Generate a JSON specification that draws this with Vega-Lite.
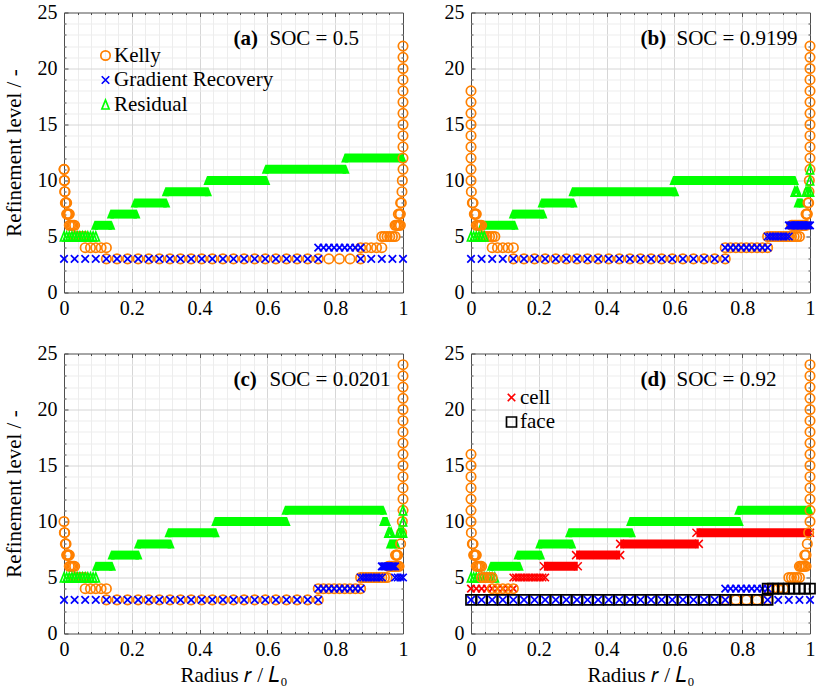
{
"$schema":"https://vega.github.io/schema/vega-lite/v6.json",
"padding":{"left":2,"top":1.5,"right":5,"bottom":3},
"background":"white",
"config":{
 "font":"Liberation Serif",
 "view":{"stroke":"#4d4d4d","strokeWidth":1},
 "text":{"font":"Liberation Serif"},
 "axis":{"domain":false,"tickColor":"#4d4d4d","tickWidth":1,"labelFont":"Liberation Serif","labelFontSize":20,"labelColor":"#000000","labelFlush":false,"labelOverlap":false,"titleFont":"Liberation Serif","titleFontSize":21,"titleFontWeight":"normal","titleColor":"#000000"},
 "legend":{"labelFont":"Liberation Serif","labelFontSize":21,"labelColor":"#000000"}
},
"datasets":{
"segs":[
{"p":"a","s":"R","x":0.09,"x2":0.141,"y":6},{"p":"a","s":"R","x":0.137,"x2":0.215,"y":7},{"p":"a","s":"R","x":0.207,"x2":0.303,"y":8},{"p":"a","s":"R","x":0.299,"x2":0.426,"y":9},{"p":"a","s":"R","x":0.422,"x2":0.598,"y":10},{"p":"a","s":"R","x":0.594,"x2":0.832,"y":11},{"p":"a","s":"R","x":0.828,"x2":1,"y":12},
{"p":"b","s":"R","x":0.03,"x2":0.13,"y":6},{"p":"b","s":"R","x":0.122,"x2":0.215,"y":7},{"p":"b","s":"R","x":0.207,"x2":0.304,"y":8},{"p":"b","s":"R","x":0.298,"x2":0.604,"y":9},{"p":"b","s":"R","x":0.596,"x2":0.957,"y":10},{"p":"b","s":"R","x":0.962,"x2":0.978,"y":8},
{"p":"c","s":"R","x":0.093,"x2":0.143,"y":6},{"p":"c","s":"R","x":0.139,"x2":0.221,"y":7},{"p":"c","s":"R","x":0.217,"x2":0.316,"y":8},{"p":"c","s":"R","x":0.307,"x2":0.449,"y":9},{"p":"c","s":"R","x":0.445,"x2":0.658,"y":10},{"p":"c","s":"R","x":0.652,"x2":0.943,"y":11},{"p":"c","s":"R","x":0.94,"x2":0.954,"y":10},{"p":"c","s":"R","x":0.96,"x2":0.982,"y":8},
{"p":"d","s":"R","x":0.057,"x2":0.145,"y":6},{"p":"d","s":"R","x":0.136,"x2":0.208,"y":7},{"p":"d","s":"R","x":0.2,"x2":0.3,"y":8},{"p":"d","s":"R","x":0.288,"x2":0.476,"y":9},{"p":"d","s":"R","x":0.468,"x2":0.794,"y":10},{"p":"d","s":"R","x":0.787,"x2":1,"y":11},
{"p":"d","s":"C","x":0.215,"x2":0.315,"y":6},{"p":"d","s":"C","x":0.31,"x2":0.44,"y":7},{"p":"d","s":"C","x":0.44,"x2":0.672,"y":8},{"p":"d","s":"C","x":0.665,"x2":1,"y":9}
],
"a":[
{"s":"K","x":0,"y":11},{"s":"K","x":0.0005,"y":11},{"s":"K","x":0.001,"y":10},{"s":"K","x":0.0015,"y":10},{"s":"K","x":0.002,"y":9},{"s":"K","x":0.003,"y":9},{"s":"K","x":0.004,"y":8},{"s":"K","x":0.006,"y":8},{"s":"K","x":0.0078,"y":8},
{"s":"K","x":0.0078,"y":7},{"s":"K","x":0.0098,"y":7},{"s":"K","x":0.0117,"y":7},{"s":"K","x":0.0137,"y":7},{"s":"K","x":0.0156,"y":7},
{"s":"K","x":0.0156,"y":6},{"s":"K","x":0.0195,"y":6},{"s":"K","x":0.0234,"y":6},{"s":"K","x":0.0273,"y":6},{"s":"K","x":0.0313,"y":6},
{"s":"K","x":0.0313,"y":5},{"s":"K","x":0.0391,"y":5},{"s":"K","x":0.0469,"y":5},{"s":"K","x":0.0547,"y":5},{"s":"K","x":0.0625,"y":5},
{"s":"K","x":0.0625,"y":4},{"s":"K","x":0.0781,"y":4},{"s":"K","x":0.0938,"y":4},{"s":"K","x":0.1094,"y":4},{"s":"K","x":0.125,"y":4},
{"s":"K","x":0.125,"y":3},{"s":"K","x":0.15625,"y":3},{"s":"K","x":0.1875,"y":3},{"s":"K","x":0.21875,"y":3},{"s":"K","x":0.25,"y":3},{"s":"K","x":0.28125,"y":3},{"s":"K","x":0.3125,"y":3},{"s":"K","x":0.34375,"y":3},{"s":"K","x":0.375,"y":3},{"s":"K","x":0.40625,"y":3},{"s":"K","x":0.4375,"y":3},{"s":"K","x":0.46875,"y":3},{"s":"K","x":0.5,"y":3},{"s":"K","x":0.53125,"y":3},{"s":"K","x":0.5625,"y":3},{"s":"K","x":0.59375,"y":3},{"s":"K","x":0.625,"y":3},{"s":"K","x":0.65625,"y":3},{"s":"K","x":0.6875,"y":3},{"s":"K","x":0.71875,"y":3},{"s":"K","x":0.75,"y":3},{"s":"K","x":0.78125,"y":3},{"s":"K","x":0.8125,"y":3},{"s":"K","x":0.84375,"y":3},{"s":"K","x":0.875,"y":3},
{"s":"K","x":0.875,"y":4},{"s":"K","x":0.8906,"y":4},{"s":"K","x":0.9063,"y":4},{"s":"K","x":0.9219,"y":4},{"s":"K","x":0.9375,"y":4},
{"s":"K","x":0.9375,"y":5},{"s":"K","x":0.9453,"y":5},{"s":"K","x":0.9531,"y":5},{"s":"K","x":0.9609,"y":5},{"s":"K","x":0.9688,"y":5},{"s":"K","x":0.9766,"y":5},
{"s":"K","x":0.9766,"y":6},{"s":"K","x":0.9805,"y":6},{"s":"K","x":0.9844,"y":6},{"s":"K","x":0.9883,"y":6},{"s":"K","x":0.9922,"y":6},
{"s":"K","x":0.9863,"y":7},{"s":"K","x":0.9902,"y":7},{"s":"K","x":0.9922,"y":7},
{"s":"K","x":0.993,"y":8},{"s":"K","x":0.995,"y":8},{"s":"K","x":0.997,"y":9},{"s":"K","x":0.998,"y":10},
{"s":"K","x":1,"y":11},{"s":"K","x":1,"y":12},{"s":"K","x":1,"y":13},{"s":"K","x":1,"y":14},{"s":"K","x":1,"y":15},{"s":"K","x":1,"y":16},{"s":"K","x":1,"y":17},{"s":"K","x":1,"y":18},{"s":"K","x":1,"y":19},{"s":"K","x":1,"y":20},{"s":"K","x":1,"y":21},{"s":"K","x":1,"y":22},
{"s":"G","x":0,"y":3},{"s":"G","x":0.03125,"y":3},{"s":"G","x":0.0625,"y":3},{"s":"G","x":0.09375,"y":3},{"s":"G","x":0.125,"y":3},{"s":"G","x":0.15625,"y":3},{"s":"G","x":0.1875,"y":3},{"s":"G","x":0.21875,"y":3},{"s":"G","x":0.25,"y":3},{"s":"G","x":0.28125,"y":3},{"s":"G","x":0.3125,"y":3},{"s":"G","x":0.34375,"y":3},{"s":"G","x":0.375,"y":3},{"s":"G","x":0.40625,"y":3},{"s":"G","x":0.4375,"y":3},{"s":"G","x":0.46875,"y":3},{"s":"G","x":0.5,"y":3},{"s":"G","x":0.53125,"y":3},{"s":"G","x":0.5625,"y":3},{"s":"G","x":0.59375,"y":3},{"s":"G","x":0.625,"y":3},{"s":"G","x":0.65625,"y":3},{"s":"G","x":0.6875,"y":3},{"s":"G","x":0.71875,"y":3},{"s":"G","x":0.75,"y":3},
{"s":"G","x":0.75,"y":4},{"s":"G","x":0.7656,"y":4},{"s":"G","x":0.7813,"y":4},{"s":"G","x":0.7969,"y":4},{"s":"G","x":0.8125,"y":4},{"s":"G","x":0.8281,"y":4},{"s":"G","x":0.8438,"y":4},{"s":"G","x":0.8594,"y":4},{"s":"G","x":0.875,"y":4},
{"s":"G","x":0.875,"y":3},{"s":"G","x":0.90625,"y":3},{"s":"G","x":0.9375,"y":3},{"s":"G","x":0.96875,"y":3},{"s":"G","x":1,"y":3},
{"s":"R","x":0,"y":5},{"s":"R","x":0.0078,"y":5},{"s":"R","x":0.0156,"y":5},{"s":"R","x":0.0234,"y":5},{"s":"R","x":0.0313,"y":5},{"s":"R","x":0.0391,"y":5},{"s":"R","x":0.0469,"y":5},{"s":"R","x":0.0547,"y":5},{"s":"R","x":0.0625,"y":5},{"s":"R","x":0.0703,"y":5},{"s":"R","x":0.0781,"y":5},{"s":"R","x":0.0859,"y":5},{"s":"R","x":0.0938,"y":5}
],
"b":[
{"s":"K","x":0,"y":18},{"s":"K","x":0,"y":17},{"s":"K","x":0,"y":16},{"s":"K","x":0,"y":15},{"s":"K","x":0,"y":14},{"s":"K","x":0,"y":13},{"s":"K","x":0,"y":12},{"s":"K","x":0,"y":11},{"s":"K","x":0,"y":10},{"s":"K","x":0.001,"y":9},
{"s":"K","x":0.004,"y":8},{"s":"K","x":0.006,"y":8},
{"s":"K","x":0.0098,"y":7},{"s":"K","x":0.0117,"y":7},{"s":"K","x":0.0137,"y":7},{"s":"K","x":0.0156,"y":7},
{"s":"K","x":0.0156,"y":6},{"s":"K","x":0.0195,"y":6},{"s":"K","x":0.0234,"y":6},{"s":"K","x":0.0273,"y":6},{"s":"K","x":0.0313,"y":6},
{"s":"K","x":0.0313,"y":5},{"s":"K","x":0.0391,"y":5},{"s":"K","x":0.0469,"y":5},{"s":"K","x":0.0547,"y":5},{"s":"K","x":0.0625,"y":5},{"s":"K","x":0.0703,"y":5},
{"s":"K","x":0.0625,"y":4},{"s":"K","x":0.0781,"y":4},{"s":"K","x":0.0938,"y":4},{"s":"K","x":0.1094,"y":4},{"s":"K","x":0.125,"y":4},
{"s":"K","x":0.125,"y":3},{"s":"K","x":0.15625,"y":3},{"s":"K","x":0.1875,"y":3},{"s":"K","x":0.21875,"y":3},{"s":"K","x":0.25,"y":3},{"s":"K","x":0.28125,"y":3},{"s":"K","x":0.3125,"y":3},{"s":"K","x":0.34375,"y":3},{"s":"K","x":0.375,"y":3},{"s":"K","x":0.40625,"y":3},{"s":"K","x":0.4375,"y":3},{"s":"K","x":0.46875,"y":3},{"s":"K","x":0.5,"y":3},{"s":"K","x":0.53125,"y":3},{"s":"K","x":0.5625,"y":3},{"s":"K","x":0.59375,"y":3},{"s":"K","x":0.625,"y":3},{"s":"K","x":0.65625,"y":3},{"s":"K","x":0.6875,"y":3},{"s":"K","x":0.71875,"y":3},{"s":"K","x":0.75,"y":3},
{"s":"K","x":0.75,"y":4},{"s":"K","x":0.7656,"y":4},{"s":"K","x":0.7813,"y":4},{"s":"K","x":0.7969,"y":4},{"s":"K","x":0.8125,"y":4},{"s":"K","x":0.8281,"y":4},{"s":"K","x":0.8438,"y":4},{"s":"K","x":0.8594,"y":4},{"s":"K","x":0.875,"y":4},
{"s":"K","x":0.875,"y":5},{"s":"K","x":0.8828,"y":5},{"s":"K","x":0.8906,"y":5},{"s":"K","x":0.8984,"y":5},{"s":"K","x":0.9063,"y":5},{"s":"K","x":0.9141,"y":5},{"s":"K","x":0.9219,"y":5},{"s":"K","x":0.9297,"y":5},{"s":"K","x":0.9375,"y":5},{"s":"K","x":0.9453,"y":5},{"s":"K","x":0.9531,"y":5},{"s":"K","x":0.9609,"y":5},{"s":"K","x":0.9688,"y":5},
{"s":"K","x":0.9453,"y":6},{"s":"K","x":0.9492,"y":6},{"s":"K","x":0.9531,"y":6},{"s":"K","x":0.957,"y":6},{"s":"K","x":0.9609,"y":6},{"s":"K","x":0.9648,"y":6},{"s":"K","x":0.9688,"y":6},{"s":"K","x":0.9727,"y":6},{"s":"K","x":0.9766,"y":6},{"s":"K","x":0.9805,"y":6},{"s":"K","x":0.9844,"y":6},{"s":"K","x":0.9883,"y":6},
{"s":"K","x":0.9883,"y":7},{"s":"K","x":0.9902,"y":7},{"s":"K","x":0.9922,"y":7},
{"s":"K","x":0.994,"y":8},{"s":"K","x":0.996,"y":8},{"s":"K","x":0.997,"y":9},{"s":"K","x":0.998,"y":10},
{"s":"K","x":1,"y":11},{"s":"K","x":1,"y":12},{"s":"K","x":1,"y":13},{"s":"K","x":1,"y":14},{"s":"K","x":1,"y":15},{"s":"K","x":1,"y":16},{"s":"K","x":1,"y":17},{"s":"K","x":1,"y":18},{"s":"K","x":1,"y":19},{"s":"K","x":1,"y":20},{"s":"K","x":1,"y":21},{"s":"K","x":1,"y":22},
{"s":"G","x":0,"y":3},{"s":"G","x":0.03125,"y":3},{"s":"G","x":0.0625,"y":3},{"s":"G","x":0.09375,"y":3},{"s":"G","x":0.125,"y":3},{"s":"G","x":0.15625,"y":3},{"s":"G","x":0.1875,"y":3},{"s":"G","x":0.21875,"y":3},{"s":"G","x":0.25,"y":3},{"s":"G","x":0.28125,"y":3},{"s":"G","x":0.3125,"y":3},{"s":"G","x":0.34375,"y":3},{"s":"G","x":0.375,"y":3},{"s":"G","x":0.40625,"y":3},{"s":"G","x":0.4375,"y":3},{"s":"G","x":0.46875,"y":3},{"s":"G","x":0.5,"y":3},{"s":"G","x":0.53125,"y":3},{"s":"G","x":0.5625,"y":3},{"s":"G","x":0.59375,"y":3},{"s":"G","x":0.625,"y":3},{"s":"G","x":0.65625,"y":3},{"s":"G","x":0.6875,"y":3},{"s":"G","x":0.71875,"y":3},{"s":"G","x":0.75,"y":3},
{"s":"G","x":0.75,"y":4},{"s":"G","x":0.7656,"y":4},{"s":"G","x":0.7813,"y":4},{"s":"G","x":0.7969,"y":4},{"s":"G","x":0.8125,"y":4},{"s":"G","x":0.8281,"y":4},{"s":"G","x":0.8438,"y":4},{"s":"G","x":0.8594,"y":4},{"s":"G","x":0.875,"y":4},
{"s":"G","x":0.875,"y":5},{"s":"G","x":0.8828,"y":5},{"s":"G","x":0.8906,"y":5},{"s":"G","x":0.8984,"y":5},{"s":"G","x":0.9063,"y":5},{"s":"G","x":0.9141,"y":5},{"s":"G","x":0.9219,"y":5},{"s":"G","x":0.9297,"y":5},{"s":"G","x":0.9375,"y":5},
{"s":"G","x":0.9375,"y":6},{"s":"G","x":0.9414,"y":6},{"s":"G","x":0.9453,"y":6},{"s":"G","x":0.9492,"y":6},{"s":"G","x":0.9531,"y":6},{"s":"G","x":0.957,"y":6},{"s":"G","x":0.9609,"y":6},{"s":"G","x":0.9648,"y":6},{"s":"G","x":0.9688,"y":6},{"s":"G","x":0.9727,"y":6},{"s":"G","x":0.9766,"y":6},{"s":"G","x":0.9805,"y":6},{"s":"G","x":0.9844,"y":6},{"s":"G","x":0.9883,"y":6},{"s":"G","x":0.9922,"y":6},{"s":"G","x":0.9961,"y":6},{"s":"G","x":1,"y":6},
{"s":"R","x":0,"y":5},{"s":"R","x":0.0078,"y":5},{"s":"R","x":0.0156,"y":5},{"s":"R","x":0.0234,"y":5},{"s":"R","x":0.0313,"y":5},{"s":"R","x":0.0391,"y":5},
{"s":"R","x":0.955,"y":9},{"s":"R","x":0.959,"y":9},{"s":"R","x":0.963,"y":9},{"s":"R","x":0.9883,"y":9},{"s":"R","x":0.9941,"y":9},{"s":"R","x":1,"y":9},{"s":"R","x":1,"y":10},{"s":"R","x":1,"y":11}
],
"c":[
{"s":"K","x":0,"y":10},{"s":"K","x":0.001,"y":9},{"s":"K","x":0.002,"y":9},{"s":"K","x":0.004,"y":8},{"s":"K","x":0.006,"y":8},
{"s":"K","x":0.0078,"y":7},{"s":"K","x":0.0098,"y":7},{"s":"K","x":0.0117,"y":7},{"s":"K","x":0.0137,"y":7},{"s":"K","x":0.0156,"y":7},
{"s":"K","x":0.0156,"y":6},{"s":"K","x":0.0195,"y":6},{"s":"K","x":0.0234,"y":6},{"s":"K","x":0.0273,"y":6},{"s":"K","x":0.0313,"y":6},
{"s":"K","x":0.0313,"y":5},{"s":"K","x":0.0391,"y":5},{"s":"K","x":0.0469,"y":5},{"s":"K","x":0.0547,"y":5},{"s":"K","x":0.0625,"y":5},
{"s":"K","x":0.0625,"y":4},{"s":"K","x":0.0781,"y":4},{"s":"K","x":0.0938,"y":4},{"s":"K","x":0.1094,"y":4},{"s":"K","x":0.125,"y":4},
{"s":"K","x":0.125,"y":3},{"s":"K","x":0.15625,"y":3},{"s":"K","x":0.1875,"y":3},{"s":"K","x":0.21875,"y":3},{"s":"K","x":0.25,"y":3},{"s":"K","x":0.28125,"y":3},{"s":"K","x":0.3125,"y":3},{"s":"K","x":0.34375,"y":3},{"s":"K","x":0.375,"y":3},{"s":"K","x":0.40625,"y":3},{"s":"K","x":0.4375,"y":3},{"s":"K","x":0.46875,"y":3},{"s":"K","x":0.5,"y":3},{"s":"K","x":0.53125,"y":3},{"s":"K","x":0.5625,"y":3},{"s":"K","x":0.59375,"y":3},{"s":"K","x":0.625,"y":3},{"s":"K","x":0.65625,"y":3},{"s":"K","x":0.6875,"y":3},{"s":"K","x":0.71875,"y":3},{"s":"K","x":0.75,"y":3},
{"s":"K","x":0.75,"y":4},{"s":"K","x":0.7656,"y":4},{"s":"K","x":0.7813,"y":4},{"s":"K","x":0.7969,"y":4},{"s":"K","x":0.8125,"y":4},{"s":"K","x":0.8281,"y":4},{"s":"K","x":0.8438,"y":4},{"s":"K","x":0.8594,"y":4},{"s":"K","x":0.875,"y":4},
{"s":"K","x":0.875,"y":5},{"s":"K","x":0.8828,"y":5},{"s":"K","x":0.8906,"y":5},{"s":"K","x":0.8984,"y":5},{"s":"K","x":0.9063,"y":5},{"s":"K","x":0.9141,"y":5},{"s":"K","x":0.9219,"y":5},{"s":"K","x":0.9297,"y":5},{"s":"K","x":0.9375,"y":5},{"s":"K","x":0.9453,"y":5},{"s":"K","x":0.9531,"y":5},
{"s":"K","x":0.957,"y":6},{"s":"K","x":0.9609,"y":6},{"s":"K","x":0.9648,"y":6},{"s":"K","x":0.9688,"y":6},{"s":"K","x":0.9727,"y":6},{"s":"K","x":0.9766,"y":6},{"s":"K","x":0.9805,"y":6},{"s":"K","x":0.9844,"y":6},{"s":"K","x":0.9883,"y":6},
{"s":"K","x":0.978,"y":7},{"s":"K","x":0.981,"y":7},{"s":"K","x":0.984,"y":7},
{"s":"K","x":0.993,"y":8},{"s":"K","x":0.996,"y":9},{"s":"K","x":0.998,"y":10},
{"s":"K","x":1,"y":11},{"s":"K","x":1,"y":12},{"s":"K","x":1,"y":13},{"s":"K","x":1,"y":14},{"s":"K","x":1,"y":15},{"s":"K","x":1,"y":16},{"s":"K","x":1,"y":17},{"s":"K","x":1,"y":18},{"s":"K","x":1,"y":19},{"s":"K","x":1,"y":20},{"s":"K","x":1,"y":21},{"s":"K","x":1,"y":22},{"s":"K","x":1,"y":23},{"s":"K","x":1,"y":24},
{"s":"G","x":0,"y":3},{"s":"G","x":0.03125,"y":3},{"s":"G","x":0.0625,"y":3},{"s":"G","x":0.09375,"y":3},{"s":"G","x":0.125,"y":3},{"s":"G","x":0.15625,"y":3},{"s":"G","x":0.1875,"y":3},{"s":"G","x":0.21875,"y":3},{"s":"G","x":0.25,"y":3},{"s":"G","x":0.28125,"y":3},{"s":"G","x":0.3125,"y":3},{"s":"G","x":0.34375,"y":3},{"s":"G","x":0.375,"y":3},{"s":"G","x":0.40625,"y":3},{"s":"G","x":0.4375,"y":3},{"s":"G","x":0.46875,"y":3},{"s":"G","x":0.5,"y":3},{"s":"G","x":0.53125,"y":3},{"s":"G","x":0.5625,"y":3},{"s":"G","x":0.59375,"y":3},{"s":"G","x":0.625,"y":3},{"s":"G","x":0.65625,"y":3},{"s":"G","x":0.6875,"y":3},{"s":"G","x":0.71875,"y":3},{"s":"G","x":0.75,"y":3},
{"s":"G","x":0.75,"y":4},{"s":"G","x":0.7656,"y":4},{"s":"G","x":0.7813,"y":4},{"s":"G","x":0.7969,"y":4},{"s":"G","x":0.8125,"y":4},{"s":"G","x":0.8281,"y":4},{"s":"G","x":0.8438,"y":4},{"s":"G","x":0.8594,"y":4},{"s":"G","x":0.875,"y":4},
{"s":"G","x":0.875,"y":5},{"s":"G","x":0.8828,"y":5},{"s":"G","x":0.8906,"y":5},{"s":"G","x":0.8984,"y":5},{"s":"G","x":0.9063,"y":5},{"s":"G","x":0.9141,"y":5},{"s":"G","x":0.9219,"y":5},{"s":"G","x":0.9297,"y":5},{"s":"G","x":0.9375,"y":5},
{"s":"G","x":0.9375,"y":6},{"s":"G","x":0.9414,"y":6},{"s":"G","x":0.9453,"y":6},{"s":"G","x":0.9492,"y":6},{"s":"G","x":0.9531,"y":6},{"s":"G","x":0.957,"y":6},{"s":"G","x":0.9609,"y":6},{"s":"G","x":0.9648,"y":6},{"s":"G","x":0.9688,"y":6},{"s":"G","x":0.9727,"y":6},{"s":"G","x":0.9766,"y":6},
{"s":"G","x":0.9766,"y":5},{"s":"G","x":0.9844,"y":5},{"s":"G","x":0.9922,"y":5},{"s":"G","x":1,"y":5},
{"s":"R","x":0,"y":5},{"s":"R","x":0.0078,"y":5},{"s":"R","x":0.0156,"y":5},{"s":"R","x":0.0234,"y":5},{"s":"R","x":0.0313,"y":5},{"s":"R","x":0.0391,"y":5},{"s":"R","x":0.0469,"y":5},{"s":"R","x":0.0547,"y":5},{"s":"R","x":0.0625,"y":5},{"s":"R","x":0.0703,"y":5},{"s":"R","x":0.0781,"y":5},{"s":"R","x":0.0859,"y":5},{"s":"R","x":0.0938,"y":5},
{"s":"R","x":0.957,"y":9},{"s":"R","x":0.961,"y":9},{"s":"R","x":0.965,"y":9},{"s":"R","x":0.9883,"y":9},{"s":"R","x":0.9941,"y":9},{"s":"R","x":1,"y":9},{"s":"R","x":1,"y":10},{"s":"R","x":1,"y":11}
],
"d":[
{"s":"R","x":0,"y":5},{"s":"R","x":0.0078,"y":5},{"s":"R","x":0.0156,"y":5},{"s":"R","x":0.0234,"y":5},{"s":"R","x":0.0313,"y":5},{"s":"R","x":0.0391,"y":5},{"s":"R","x":0.0469,"y":5},{"s":"R","x":0.0547,"y":5},{"s":"R","x":0.0625,"y":5},{"s":"R","x":0.0703,"y":5},
{"s":"C","x":0,"y":4},{"s":"C","x":0.0156,"y":4},{"s":"C","x":0.0313,"y":4},{"s":"C","x":0.0469,"y":4},{"s":"C","x":0.0625,"y":4},{"s":"C","x":0.0781,"y":4},{"s":"C","x":0.0938,"y":4},{"s":"C","x":0.1094,"y":4},{"s":"C","x":0.125,"y":4},
{"s":"C","x":0.125,"y":5},{"s":"C","x":0.1328,"y":5},{"s":"C","x":0.1406,"y":5},{"s":"C","x":0.1484,"y":5},{"s":"C","x":0.1563,"y":5},{"s":"C","x":0.1641,"y":5},{"s":"C","x":0.1719,"y":5},{"s":"C","x":0.1797,"y":5},{"s":"C","x":0.1875,"y":5},{"s":"C","x":0.1953,"y":5},{"s":"C","x":0.2031,"y":5},{"s":"C","x":0.2109,"y":5},{"s":"C","x":0.2188,"y":5},
{"s":"K","x":0,"y":16},{"s":"K","x":0,"y":15},{"s":"K","x":0,"y":14},{"s":"K","x":0,"y":13},{"s":"K","x":0,"y":12},{"s":"K","x":0,"y":11},{"s":"K","x":0,"y":10},{"s":"K","x":0.001,"y":9},
{"s":"K","x":0.004,"y":8},{"s":"K","x":0.006,"y":8},
{"s":"K","x":0.0078,"y":7},{"s":"K","x":0.0098,"y":7},{"s":"K","x":0.0117,"y":7},{"s":"K","x":0.0137,"y":7},{"s":"K","x":0.0156,"y":7},
{"s":"K","x":0.0156,"y":6},{"s":"K","x":0.0195,"y":6},{"s":"K","x":0.0234,"y":6},{"s":"K","x":0.0273,"y":6},{"s":"K","x":0.0313,"y":6},
{"s":"K","x":0.0313,"y":5},{"s":"K","x":0.0391,"y":5},{"s":"K","x":0.0469,"y":5},{"s":"K","x":0.0547,"y":5},{"s":"K","x":0.0625,"y":5},
{"s":"K","x":0.0625,"y":4},{"s":"K","x":0.0781,"y":4},{"s":"K","x":0.0938,"y":4},{"s":"K","x":0.1094,"y":4},{"s":"K","x":0.125,"y":4},
{"s":"K","x":0.75,"y":3},{"s":"K","x":0.78125,"y":3},{"s":"K","x":0.8125,"y":3},{"s":"K","x":0.84375,"y":3},{"s":"K","x":0.875,"y":3},
{"s":"K","x":0.875,"y":4},{"s":"K","x":0.8906,"y":4},{"s":"K","x":0.9063,"y":4},{"s":"K","x":0.9219,"y":4},
{"s":"K","x":0.9375,"y":5},{"s":"K","x":0.9453,"y":5},{"s":"K","x":0.9531,"y":5},{"s":"K","x":0.9609,"y":5},{"s":"K","x":0.9688,"y":5},
{"s":"K","x":0.9688,"y":6},{"s":"K","x":0.9727,"y":6},{"s":"K","x":0.9766,"y":6},{"s":"K","x":0.9805,"y":6},{"s":"K","x":0.9844,"y":6},{"s":"K","x":0.9883,"y":6},
{"s":"K","x":0.9844,"y":7},{"s":"K","x":0.9883,"y":7},
{"s":"K","x":0.992,"y":8},{"s":"K","x":0.996,"y":9},
{"s":"K","x":1,"y":10},{"s":"K","x":1,"y":11},{"s":"K","x":1,"y":12},{"s":"K","x":1,"y":13},{"s":"K","x":1,"y":14},{"s":"K","x":1,"y":15},{"s":"K","x":1,"y":16},{"s":"K","x":1,"y":17},{"s":"K","x":1,"y":18},{"s":"K","x":1,"y":19},{"s":"K","x":1,"y":20},{"s":"K","x":1,"y":21},{"s":"K","x":1,"y":22},{"s":"K","x":1,"y":23},{"s":"K","x":1,"y":24},
{"s":"G","x":0,"y":3},{"s":"G","x":0.03125,"y":3},{"s":"G","x":0.0625,"y":3},{"s":"G","x":0.09375,"y":3},{"s":"G","x":0.125,"y":3},{"s":"G","x":0.15625,"y":3},{"s":"G","x":0.1875,"y":3},{"s":"G","x":0.21875,"y":3},{"s":"G","x":0.25,"y":3},{"s":"G","x":0.28125,"y":3},{"s":"G","x":0.3125,"y":3},{"s":"G","x":0.34375,"y":3},{"s":"G","x":0.375,"y":3},{"s":"G","x":0.40625,"y":3},{"s":"G","x":0.4375,"y":3},{"s":"G","x":0.46875,"y":3},{"s":"G","x":0.5,"y":3},{"s":"G","x":0.53125,"y":3},{"s":"G","x":0.5625,"y":3},{"s":"G","x":0.59375,"y":3},{"s":"G","x":0.625,"y":3},{"s":"G","x":0.65625,"y":3},{"s":"G","x":0.6875,"y":3},{"s":"G","x":0.71875,"y":3},{"s":"G","x":0.75,"y":3},
{"s":"G","x":0.75,"y":4},{"s":"G","x":0.7656,"y":4},{"s":"G","x":0.7813,"y":4},{"s":"G","x":0.7969,"y":4},{"s":"G","x":0.8125,"y":4},{"s":"G","x":0.8281,"y":4},{"s":"G","x":0.8438,"y":4},{"s":"G","x":0.8594,"y":4},{"s":"G","x":0.875,"y":4},
{"s":"G","x":0.875,"y":3},{"s":"G","x":0.90625,"y":3},{"s":"G","x":0.9375,"y":3},{"s":"G","x":0.96875,"y":3},{"s":"G","x":1,"y":3},
{"s":"F","x":0,"y":3},{"s":"F","x":0.03125,"y":3},{"s":"F","x":0.0625,"y":3},{"s":"F","x":0.09375,"y":3},{"s":"F","x":0.125,"y":3},{"s":"F","x":0.15625,"y":3},{"s":"F","x":0.1875,"y":3},{"s":"F","x":0.21875,"y":3},{"s":"F","x":0.25,"y":3},{"s":"F","x":0.28125,"y":3},{"s":"F","x":0.3125,"y":3},{"s":"F","x":0.34375,"y":3},{"s":"F","x":0.375,"y":3},{"s":"F","x":0.40625,"y":3},{"s":"F","x":0.4375,"y":3},{"s":"F","x":0.46875,"y":3},{"s":"F","x":0.5,"y":3},{"s":"F","x":0.53125,"y":3},{"s":"F","x":0.5625,"y":3},{"s":"F","x":0.59375,"y":3},{"s":"F","x":0.625,"y":3},{"s":"F","x":0.65625,"y":3},{"s":"F","x":0.6875,"y":3},{"s":"F","x":0.71875,"y":3},{"s":"F","x":0.75,"y":3},{"s":"F","x":0.78125,"y":3},{"s":"F","x":0.8125,"y":3},{"s":"F","x":0.84375,"y":3},{"s":"F","x":0.875,"y":3},
{"s":"F","x":0.875,"y":4},{"s":"F","x":0.8906,"y":4},{"s":"F","x":0.9063,"y":4},{"s":"F","x":0.9219,"y":4},{"s":"F","x":0.9375,"y":4},{"s":"F","x":0.9531,"y":4},{"s":"F","x":0.9688,"y":4},{"s":"F","x":0.9844,"y":4},{"s":"F","x":1,"y":4}
]
},
"columns":2,
"spacing":{"row":23,"column":31},
"resolve":{"scale":{"color":"independent","shape":"independent"},"legend":{"color":"independent","shape":"independent"}},
"concat":[
{
 "width":339,"height":280,
 "resolve":{"axis":{"x":"independent","y":"independent"}},
 "layer":[
  {"data":{"name":"segs"},"transform":[{"filter":"datum.p=='a'"}],
   "mark":{"type":"rule","strokeCap":"butt","strokeWidth":9},
   "encoding":{
    "x":{"field":"x","type":"quantitative","scale":{"domain":[0,1],"nice":false,"zero":false},"axis":{"orient":"bottom","values":[0.04,0.08,0.12,0.16,0.24,0.28,0.32,0.36,0.44,0.48,0.52,0.56,0.64,0.68,0.72,0.76,0.84,0.88,0.92,0.96],"grid":true,"gridColor":"#ededed","tickSize":-2,"labels":false,"title":null}},
    "x2":{"field":"x2"},
    "y":{"field":"y","type":"quantitative","scale":{"domain":[0,25],"nice":false},"axis":{"orient":"left","values":[1,2,3,4,6,7,8,9,11,12,13,14,16,17,18,19,21,22,23,24],"grid":true,"gridColor":"#ededed","tickSize":-2,"labels":false,"title":null}},
    "stroke":{"field":"s","type":"nominal","scale":{"domain":["R","C"],"range":["#00ff00","#ff0000"]},"legend":null}}},
  {"data":{"name":"segs"},"transform":[{"filter":"datum.p=='a' && datum.s=='R'"},{"fold":["x","x2"],"as":["k","xe"]}],
   "mark":{"type":"point","filled":true,"opacity":1,"shape":"M0,-0.9L0.72,0.9L-0.72,0.9Z","size":100,"color":"#00ff00","strokeWidth":0},
   "encoding":{
    "x":{"field":"xe","type":"quantitative","axis":{"orient":"top","values":[0.2,0.4,0.6,0.8],"grid":true,"gridColor":"#d6d6d6","tickSize":-4,"labels":false,"title":null}},
    "y":{"field":"y","type":"quantitative","axis":{"orient":"right","values":[5,10,15,20],"grid":true,"gridColor":"#d6d6d6","tickSize":-4,"labels":false,"title":null}}}},
  {"data":{"name":"a"},
   "mark":{"type":"point","filled":false,"opacity":1,"strokeWidth":1.7,"size":100},
   "encoding":{
    "x":{"field":"x","type":"quantitative","axis":{"orient":"bottom","values":[0,0.2,0.4,0.6,0.8,1],"format":"~g","grid":false,"tickSize":-4,"labelPadding":10,"title":null}},
    "y":{"field":"y","type":"quantitative","axis":{"orient":"left","values":[0,5,10,15,20,25],"format":"~g","grid":false,"tickSize":-4,"labelPadding":11,"title":"Refinement level / -","titlePadding":13}},
    "color":{"field":"s","type":"nominal","scale":{"domain":["K","G","R","C","F"],"range":["#ff8000","#0000ff","#00ff00","#ff0000","#000000"]},
      "legend":{"orient":"none","legendX":31,"legendY":32.5,"title":null,"values":["K","G","R"],"padding":0,"rowPadding":2.5,"symbolSize":100,"symbolStrokeWidth":1.7,"labelOffset":-2,"labelExpr":"datum.label=='K'?'Kelly':datum.label=='G'?'Gradient Recovery':datum.label=='R'?'Residual':datum.label=='C'?'cell':'face'"}},
    "shape":{"field":"s","type":"nominal","scale":{"domain":["K","G","R","C","F"],"range":["M0.94,0A0.94,0.94,0,1,1,-0.94,0A0.94,0.94,0,1,1,0.94,0Z","M-0.75,-0.75L0.75,0.75M-0.75,0.75L0.75,-0.75","M0,-0.9L0.72,0.9L-0.72,0.9Z","M-0.75,-0.75L0.75,0.75M-0.75,0.75L0.75,-0.75","M-1,-1L1,-1L1,1L-1,1Z"]},
      "legend":{"orient":"none","legendX":31,"legendY":32.5,"title":null,"values":["K","G","R"],"padding":0,"rowPadding":2.5,"symbolSize":100,"symbolStrokeWidth":1.7,"labelOffset":-2,"labelExpr":"datum.label=='K'?'Kelly':datum.label=='G'?'Gradient Recovery':datum.label=='R'?'Residual':datum.label=='C'?'cell':'face'"}}}},
  {"data":{"values":[{"t":"(a)"}]},
   "mark":{"type":"text","align":"left","baseline":"middle","fontSize":21,"fontWeight":"bold","color":"#000000"},
   "encoding":{
    "x":{"datum":0.5,"type":"quantitative","axis":{"orient":"top","values":[0.04,0.08,0.12,0.16,0.24,0.28,0.32,0.36,0.44,0.48,0.52,0.56,0.64,0.68,0.72,0.76,0.84,0.88,0.92,0.96],"grid":false,"tickSize":-2,"labels":false,"title":null}},
    "y":{"datum":22.6,"type":"quantitative","axis":{"orient":"right","values":[1,2,3,4,6,7,8,9,11,12,13,14,16,17,18,19,21,22,23,24],"grid":false,"tickSize":-2,"labels":false,"title":null}},
    "text":{"field":"t"}}},
  {"data":{"values":[{"t":"SOC = 0.5"}]},
   "mark":{"type":"text","align":"left","baseline":"middle","fontSize":21,"dx":36,"color":"#000000"},
   "encoding":{"x":{"datum":0.5,"type":"quantitative","axis":null},"y":{"datum":22.6,"type":"quantitative","axis":null},"text":{"field":"t"}}}
 ]
},
{
 "width":339,"height":280,
 "resolve":{"axis":{"x":"independent","y":"independent"}},
 "layer":[
  {"data":{"name":"segs"},"transform":[{"filter":"datum.p=='b'"}],
   "mark":{"type":"rule","strokeCap":"butt","strokeWidth":9},
   "encoding":{
    "x":{"field":"x","type":"quantitative","scale":{"domain":[0,1],"nice":false,"zero":false},"axis":{"orient":"bottom","values":[0.04,0.08,0.12,0.16,0.24,0.28,0.32,0.36,0.44,0.48,0.52,0.56,0.64,0.68,0.72,0.76,0.84,0.88,0.92,0.96],"grid":true,"gridColor":"#ededed","tickSize":-2,"labels":false,"title":null}},
    "x2":{"field":"x2"},
    "y":{"field":"y","type":"quantitative","scale":{"domain":[0,25],"nice":false},"axis":{"orient":"left","values":[1,2,3,4,6,7,8,9,11,12,13,14,16,17,18,19,21,22,23,24],"grid":true,"gridColor":"#ededed","tickSize":-2,"labels":false,"title":null}},
    "stroke":{"field":"s","type":"nominal","scale":{"domain":["R","C"],"range":["#00ff00","#ff0000"]},"legend":null}}},
  {"data":{"name":"segs"},"transform":[{"filter":"datum.p=='b' && datum.s=='R'"},{"fold":["x","x2"],"as":["k","xe"]}],
   "mark":{"type":"point","filled":true,"opacity":1,"shape":"M0,-0.9L0.72,0.9L-0.72,0.9Z","size":100,"color":"#00ff00","strokeWidth":0},
   "encoding":{
    "x":{"field":"xe","type":"quantitative","axis":{"orient":"top","values":[0.2,0.4,0.6,0.8],"grid":true,"gridColor":"#d6d6d6","tickSize":-4,"labels":false,"title":null}},
    "y":{"field":"y","type":"quantitative","axis":{"orient":"right","values":[5,10,15,20],"grid":true,"gridColor":"#d6d6d6","tickSize":-4,"labels":false,"title":null}}}},
  {"data":{"name":"b"},
   "mark":{"type":"point","filled":false,"opacity":1,"strokeWidth":1.7,"size":100},
   "encoding":{
    "x":{"field":"x","type":"quantitative","axis":{"orient":"bottom","values":[0,0.2,0.4,0.6,0.8,1],"format":"~g","grid":false,"tickSize":-4,"labelPadding":10,"title":null}},
    "y":{"field":"y","type":"quantitative","axis":{"orient":"left","values":[0,5,10,15,20,25],"format":"~g","grid":false,"tickSize":-4,"labelPadding":11,"title":null}},
    "color":{"field":"s","type":"nominal","scale":{"domain":["K","G","R","C","F"],"range":["#ff8000","#0000ff","#00ff00","#ff0000","#000000"]},"legend":null},
    "shape":{"field":"s","type":"nominal","scale":{"domain":["K","G","R","C","F"],"range":["M0.94,0A0.94,0.94,0,1,1,-0.94,0A0.94,0.94,0,1,1,0.94,0Z","M-0.75,-0.75L0.75,0.75M-0.75,0.75L0.75,-0.75","M0,-0.9L0.72,0.9L-0.72,0.9Z","M-0.75,-0.75L0.75,0.75M-0.75,0.75L0.75,-0.75","M-1,-1L1,-1L1,1L-1,1Z"]},"legend":null}}},
  {"data":{"values":[{"t":"(b)"}]},
   "mark":{"type":"text","align":"left","baseline":"middle","fontSize":21,"fontWeight":"bold","color":"#000000"},
   "encoding":{
    "x":{"datum":0.5,"type":"quantitative","axis":{"orient":"top","values":[0.04,0.08,0.12,0.16,0.24,0.28,0.32,0.36,0.44,0.48,0.52,0.56,0.64,0.68,0.72,0.76,0.84,0.88,0.92,0.96],"grid":false,"tickSize":-2,"labels":false,"title":null}},
    "y":{"datum":22.6,"type":"quantitative","axis":{"orient":"right","values":[1,2,3,4,6,7,8,9,11,12,13,14,16,17,18,19,21,22,23,24],"grid":false,"tickSize":-2,"labels":false,"title":null}},
    "text":{"field":"t"}}},
  {"data":{"values":[{"t":"SOC = 0.9199"}]},
   "mark":{"type":"text","align":"left","baseline":"middle","fontSize":21,"dx":36,"color":"#000000"},
   "encoding":{"x":{"datum":0.5,"type":"quantitative","axis":null},"y":{"datum":22.6,"type":"quantitative","axis":null},"text":{"field":"t"}}}
 ]
},
{
 "width":339,"height":280,
 "resolve":{"axis":{"x":"independent","y":"independent"}},
 "layer":[
  {"data":{"name":"segs"},"transform":[{"filter":"datum.p=='c'"}],
   "mark":{"type":"rule","strokeCap":"butt","strokeWidth":9},
   "encoding":{
    "x":{"field":"x","type":"quantitative","scale":{"domain":[0,1],"nice":false,"zero":false},"axis":{"orient":"bottom","values":[0.04,0.08,0.12,0.16,0.24,0.28,0.32,0.36,0.44,0.48,0.52,0.56,0.64,0.68,0.72,0.76,0.84,0.88,0.92,0.96],"grid":true,"gridColor":"#ededed","tickSize":-2,"labels":false,"title":null}},
    "x2":{"field":"x2"},
    "y":{"field":"y","type":"quantitative","scale":{"domain":[0,25],"nice":false},"axis":{"orient":"left","values":[1,2,3,4,6,7,8,9,11,12,13,14,16,17,18,19,21,22,23,24],"grid":true,"gridColor":"#ededed","tickSize":-2,"labels":false,"title":null}},
    "stroke":{"field":"s","type":"nominal","scale":{"domain":["R","C"],"range":["#00ff00","#ff0000"]},"legend":null}}},
  {"data":{"name":"segs"},"transform":[{"filter":"datum.p=='c' && datum.s=='R'"},{"fold":["x","x2"],"as":["k","xe"]}],
   "mark":{"type":"point","filled":true,"opacity":1,"shape":"M0,-0.9L0.72,0.9L-0.72,0.9Z","size":100,"color":"#00ff00","strokeWidth":0},
   "encoding":{
    "x":{"field":"xe","type":"quantitative","axis":{"orient":"top","values":[0.2,0.4,0.6,0.8],"grid":true,"gridColor":"#d6d6d6","tickSize":-4,"labels":false,"title":null}},
    "y":{"field":"y","type":"quantitative","axis":{"orient":"right","values":[5,10,15,20],"grid":true,"gridColor":"#d6d6d6","tickSize":-4,"labels":false,"title":null}}}},
  {"data":{"name":"c"},
   "mark":{"type":"point","filled":false,"opacity":1,"strokeWidth":1.7,"size":100},
   "encoding":{
    "x":{"field":"x","type":"quantitative","axis":{"orient":"bottom","values":[0,0.2,0.4,0.6,0.8,1],"format":"~g","grid":false,"tickSize":-4,"labelPadding":10,"title":"Radius 𝑟 / 𝐿₀","titlePadding":5}},
    "y":{"field":"y","type":"quantitative","axis":{"orient":"left","values":[0,5,10,15,20,25],"format":"~g","grid":false,"tickSize":-4,"labelPadding":11,"title":"Refinement level / -","titlePadding":13}},
    "color":{"field":"s","type":"nominal","scale":{"domain":["K","G","R","C","F"],"range":["#ff8000","#0000ff","#00ff00","#ff0000","#000000"]},"legend":null},
    "shape":{"field":"s","type":"nominal","scale":{"domain":["K","G","R","C","F"],"range":["M0.94,0A0.94,0.94,0,1,1,-0.94,0A0.94,0.94,0,1,1,0.94,0Z","M-0.75,-0.75L0.75,0.75M-0.75,0.75L0.75,-0.75","M0,-0.9L0.72,0.9L-0.72,0.9Z","M-0.75,-0.75L0.75,0.75M-0.75,0.75L0.75,-0.75","M-1,-1L1,-1L1,1L-1,1Z"]},"legend":null}}},
  {"data":{"values":[{"t":"(c)"}]},
   "mark":{"type":"text","align":"left","baseline":"middle","fontSize":21,"fontWeight":"bold","color":"#000000"},
   "encoding":{
    "x":{"datum":0.5,"type":"quantitative","axis":{"orient":"top","values":[0.04,0.08,0.12,0.16,0.24,0.28,0.32,0.36,0.44,0.48,0.52,0.56,0.64,0.68,0.72,0.76,0.84,0.88,0.92,0.96],"grid":false,"tickSize":-2,"labels":false,"title":null}},
    "y":{"datum":22.6,"type":"quantitative","axis":{"orient":"right","values":[1,2,3,4,6,7,8,9,11,12,13,14,16,17,18,19,21,22,23,24],"grid":false,"tickSize":-2,"labels":false,"title":null}},
    "text":{"field":"t"}}},
  {"data":{"values":[{"t":"SOC = 0.0201"}]},
   "mark":{"type":"text","align":"left","baseline":"middle","fontSize":21,"dx":36,"color":"#000000"},
   "encoding":{"x":{"datum":0.5,"type":"quantitative","axis":null},"y":{"datum":22.6,"type":"quantitative","axis":null},"text":{"field":"t"}}}
 ]
},
{
 "width":339,"height":280,
 "resolve":{"axis":{"x":"independent","y":"independent"}},
 "layer":[
  {"data":{"name":"segs"},"transform":[{"filter":"datum.p=='d'"}],
   "mark":{"type":"rule","strokeCap":"butt","strokeWidth":9},
   "encoding":{
    "x":{"field":"x","type":"quantitative","scale":{"domain":[0,1],"nice":false,"zero":false},"axis":{"orient":"bottom","values":[0.04,0.08,0.12,0.16,0.24,0.28,0.32,0.36,0.44,0.48,0.52,0.56,0.64,0.68,0.72,0.76,0.84,0.88,0.92,0.96],"grid":true,"gridColor":"#ededed","tickSize":-2,"labels":false,"title":null}},
    "x2":{"field":"x2"},
    "y":{"field":"y","type":"quantitative","scale":{"domain":[0,25],"nice":false},"axis":{"orient":"left","values":[1,2,3,4,6,7,8,9,11,12,13,14,16,17,18,19,21,22,23,24],"grid":true,"gridColor":"#ededed","tickSize":-2,"labels":false,"title":null}},
    "stroke":{"field":"s","type":"nominal","scale":{"domain":["R","C"],"range":["#00ff00","#ff0000"]},"legend":null}}},
  {"data":{"name":"segs"},"transform":[{"filter":"datum.p=='d' && datum.s=='R'"},{"fold":["x","x2"],"as":["k","xe"]}],
   "mark":{"type":"point","filled":true,"opacity":1,"shape":"M0,-0.9L0.72,0.9L-0.72,0.9Z","size":100,"color":"#00ff00","strokeWidth":0},
   "encoding":{
    "x":{"field":"xe","type":"quantitative","axis":{"orient":"top","values":[0.2,0.4,0.6,0.8],"grid":true,"gridColor":"#d6d6d6","tickSize":-4,"labels":false,"title":null}},
    "y":{"field":"y","type":"quantitative","axis":{"orient":"right","values":[5,10,15,20],"grid":true,"gridColor":"#d6d6d6","tickSize":-4,"labels":false,"title":null}}}},
  {"data":{"name":"segs"},"transform":[{"filter":"datum.p=='d' && datum.s=='C'"},{"fold":["x","x2"],"as":["k","xe"]}],
   "mark":{"type":"point","filled":false,"opacity":1,"shape":"M-0.8,-0.8L0.8,0.8M-0.8,0.8L0.8,-0.8","size":100,"stroke":"#ff0000","strokeWidth":1.5},
   "encoding":{
    "x":{"field":"xe","type":"quantitative","axis":null},
    "y":{"field":"y","type":"quantitative","axis":null}}},
  {"data":{"name":"d"},
   "mark":{"type":"point","filled":false,"opacity":1,"strokeWidth":1.7,"size":100},
   "encoding":{
    "x":{"field":"x","type":"quantitative","axis":{"orient":"bottom","values":[0,0.2,0.4,0.6,0.8,1],"format":"~g","grid":false,"tickSize":-4,"labelPadding":10,"title":"Radius 𝑟 / 𝐿₀","titlePadding":5}},
    "y":{"field":"y","type":"quantitative","axis":{"orient":"left","values":[0,5,10,15,20,25],"format":"~g","grid":false,"tickSize":-4,"labelPadding":11,"title":null}},
    "color":{"field":"s","type":"nominal","scale":{"domain":["K","G","R","C","F"],"range":["#ff8000","#0000ff","#00ff00","#ff0000","#000000"]},
      "legend":{"orient":"none","legendX":30,"legendY":33.5,"title":null,"values":["C","F"],"padding":0,"rowPadding":2.5,"symbolSize":100,"symbolStrokeWidth":1.7,"labelOffset":-2,"labelExpr":"datum.label=='K'?'Kelly':datum.label=='G'?'Gradient Recovery':datum.label=='R'?'Residual':datum.label=='C'?'cell':'face'"}},
    "shape":{"field":"s","type":"nominal","scale":{"domain":["K","G","R","C","F"],"range":["M0.94,0A0.94,0.94,0,1,1,-0.94,0A0.94,0.94,0,1,1,0.94,0Z","M-0.75,-0.75L0.75,0.75M-0.75,0.75L0.75,-0.75","M0,-0.9L0.72,0.9L-0.72,0.9Z","M-0.75,-0.75L0.75,0.75M-0.75,0.75L0.75,-0.75","M-1,-1L1,-1L1,1L-1,1Z"]},
      "legend":{"orient":"none","legendX":30,"legendY":33.5,"title":null,"values":["C","F"],"padding":0,"rowPadding":2.5,"symbolSize":100,"symbolStrokeWidth":1.7,"labelOffset":-2,"labelExpr":"datum.label=='K'?'Kelly':datum.label=='G'?'Gradient Recovery':datum.label=='R'?'Residual':datum.label=='C'?'cell':'face'"}}}},
  {"data":{"values":[{"t":"(d)"}]},
   "mark":{"type":"text","align":"left","baseline":"middle","fontSize":21,"fontWeight":"bold","color":"#000000"},
   "encoding":{
    "x":{"datum":0.5,"type":"quantitative","axis":{"orient":"top","values":[0.04,0.08,0.12,0.16,0.24,0.28,0.32,0.36,0.44,0.48,0.52,0.56,0.64,0.68,0.72,0.76,0.84,0.88,0.92,0.96],"grid":false,"tickSize":-2,"labels":false,"title":null}},
    "y":{"datum":22.6,"type":"quantitative","axis":{"orient":"right","values":[1,2,3,4,6,7,8,9,11,12,13,14,16,17,18,19,21,22,23,24],"grid":false,"tickSize":-2,"labels":false,"title":null}},
    "text":{"field":"t"}}},
  {"data":{"values":[{"t":"SOC = 0.92"}]},
   "mark":{"type":"text","align":"left","baseline":"middle","fontSize":21,"dx":36,"color":"#000000"},
   "encoding":{"x":{"datum":0.5,"type":"quantitative","axis":null},"y":{"datum":22.6,"type":"quantitative","axis":null},"text":{"field":"t"}}}
 ]
}
]
}
